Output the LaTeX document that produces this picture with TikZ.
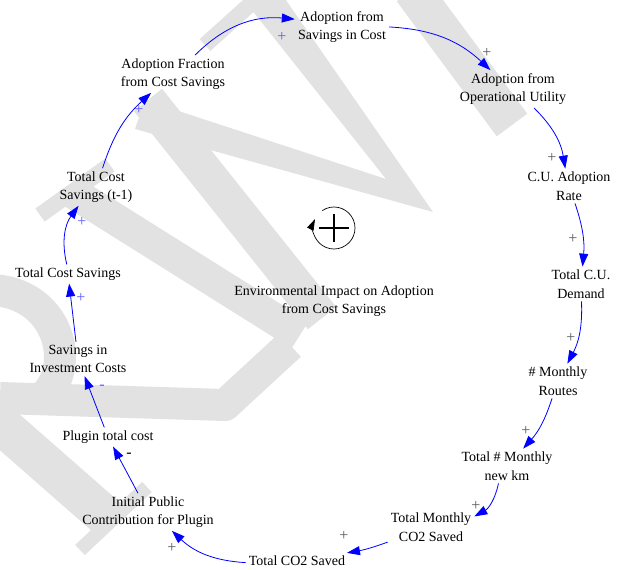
\documentclass[tikz,border=0pt]{standalone}
\usepackage{fontspec}
\setmainfont{Liberation Serif}
\usetikzlibrary{arrows.meta, positioning}
\definecolor{linkBlue}{HTML}{0000FF}
\definecolor{polGray}{HTML}{5A5A5A}
\definecolor{polBlue}{HTML}{5C5CFF}
\definecolor{markGray}{HTML}{E2E2E2}
\tikzset{
    % Variables
    varName/.style={align=center, inner sep=3pt, font=\fontsize{14}{18.5}\selectfont},
    loopName/.style={align=center, inner sep=0pt, font=\fontsize{14}{18.5}\selectfont},
    % Links
    linkArrow/.style={-{Triangle[length=13pt,width=9pt]}, draw=linkBlue, line width=0.8pt},
    polGrayMark/.style={inner sep=0pt, text=polGray, font=\fontsize{16}{16}\selectfont},
    polBlueMark/.style={inner sep=0pt, text=polBlue, font=\fontsize{16}{16}\selectfont},
    polBlackMark/.style={inner sep=0pt, text=black, font=\fontsize{16}{16}\selectfont},
    % Loop symbol
    loopCross/.style={line width=1.5pt},
    loopArc/.style={-{Triangle[length=11pt,width=7pt]}, line width=0.7pt},
    % Watermark
    markBand/.style={draw=markGray, line cap=butt, line join=round},
    markFill/.style={fill=markGray}
}

\begin{document}
\begin{tikzpicture}[x=1pt, y=-1pt]
    \useasboundingbox (0,0) rectangle (621,570);

    % Watermark
    \begin{scope}
        \clip (0,0) rectangle (621,570);
        \fill[markFill] (228,-20) -- (272,-20) -- (433,212) -- (135,129) -- (145,100) -- (386,179) -- cycle;
        \draw[markBand, line width=36pt] (148,100) -- (322,318);
        \draw[markBand, line width=32pt] (72,192) -- (300,335);
        \draw[markBand, line width=38pt] (412,-10) -- (512,125);
        \draw[markBand, line width=16pt] (205,45) -- (255,0);
        \draw[markBand, line width=16pt] (40,215) -- (110,165);
        \draw[markBand, line width=40pt] (-10,415) -- (112,522);
        \draw[markBand, line width=14pt] (80,550) -- (147,487);
        \draw[markBand, line width=32pt] (0,398) -- (225,405) -- (290,345);
        \draw[markBand, line width=32pt] (-20,290) .. controls (60,285) and (80,370) .. (40,400);
    \end{scope}

    % Variables
    \node[varName] (afsc) at (342,27) {Adoption from\\Savings in Cost};
    \node[varName] (aou) at (513,89) {Adoption from\\Operational Utility};
    \node[varName] (cuar) at (569,186) {C.U. Adoption\\Rate};
    \node[varName] (tcud) at (581,284) {Total C.U.\\Demand};
    \node[varName] (mroutes) at (558,381) {\# Monthly\\Routes};
    \node[varName] (tmkm) at (507,466) {Total \# Monthly\\new km};
    \node[varName] (tmco) at (431,527) {Total Monthly\\CO2 Saved};
    \node[varName] (tco) at (297,561) {Total CO2 Saved};
    \node[varName] (ipc) at (148,512) {Initial Public\\Contribution for Plugin};
    \node[varName] (ptc) at (108,437) {Plugin total cost};
    \node[varName] (sic) at (78,359) {Savings in\\Investment Costs};
    \node[varName] (tcs) at (68,274) {Total Cost Savings};
    \node[varName] (tcsp) at (96,187) {Total Cost\\Savings (t-1)};
    \node[varName] (afcs) at (173,74) {Adoption Fraction\\from Cost Savings};

    % Links
    \draw[linkArrow] (afcs) to[bend left=25] (afsc);
    \draw[linkArrow] (afsc) to[bend left=20] (aou);
    \draw[linkArrow] (aou) to[bend left=18] (cuar);
    \draw[linkArrow] (cuar) to[bend left=12] (tcud);
    \draw[linkArrow] (tcud) to[bend left=15] (mroutes);
    \draw[linkArrow] (mroutes) to[bend left=12] (tmkm);
    \draw[linkArrow] (tmkm) to[bend left=25] (tmco);
    \draw[linkArrow] (tmco) to[bend left=5] (tco);
    \draw[linkArrow] (tco) to[bend left=20] (ipc);
    \draw[linkArrow] (ipc) -- (ptc);
    \draw[linkArrow] (ptc) -- (sic);
    \draw[linkArrow] (sic) -- (tcs);
    \draw[linkArrow] (tcs) to[bend left=25] (tcsp);
    \draw[linkArrow] (tcsp) to[bend left=15] (afcs);

    % Polarities
    \node[polBlueMark] (p1) at (282,37) {+};
    \node[polGrayMark] (p2) at (487,53) {+};
    \node[polGrayMark] (p3) at (552,158) {+};
    \node[polGrayMark] (p4) at (573,239) {+};
    \node[polGrayMark] (p5) at (571,338) {+};
    \node[polGrayMark] (p6) at (526,431) {+};
    \node[polGrayMark] (p7) at (476,506) {+};
    \node[polGrayMark] (p8) at (344,536) {+};
    \node[polGrayMark] (p9) at (172,548) {+};
    \node[polBlackMark] (p10) at (129,455) {-};
    \node[polBlueMark] (p11) at (102,387) {-};
    \node[polBlueMark] (p12) at (81,298) {+};
    \node[polBlueMark] (p13) at (82,222) {+};
    \node[polBlueMark] (p14) at (139,110) {+};

    % Loop
    \coordinate (loopC) at (334,228);
    \draw[loopArc] (loopC) ++(-124:21) arc[start angle=-124, end angle=205, radius=21];
    \draw[loopCross] (loopC) ++(-15,0) -- ++(30,0);
    \draw[loopCross] (loopC) ++(0,-14) -- ++(0,28);
    \node[loopName] (loopLbl) at (334,301) {Environmental Impact on Adoption\\from Cost Savings};
\end{tikzpicture}
\end{document}
